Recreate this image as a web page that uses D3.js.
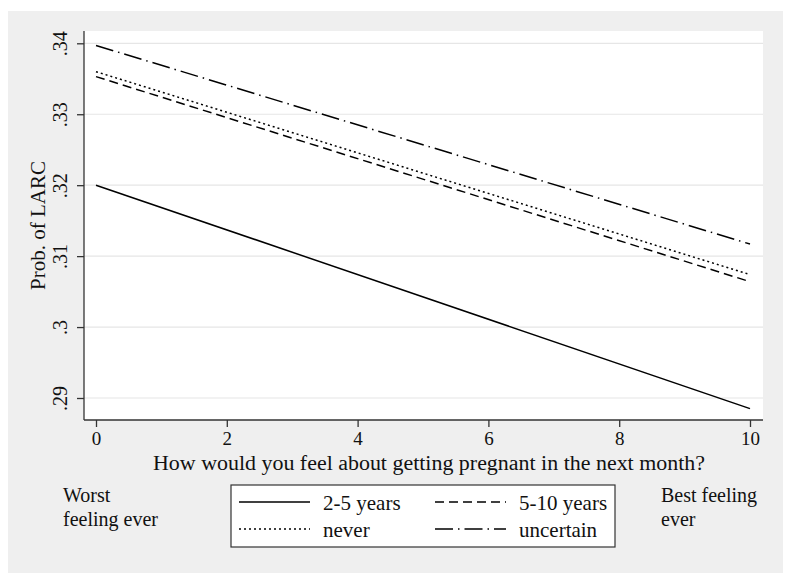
<!DOCTYPE html>
<html><head><meta charset="utf-8">
<script src="https://cdn.jsdelivr.net/npm/d3@7"></script>
<style>body{margin:0;background:#fff;} text{font-family:"Liberation Serif","Times New Roman",serif;fill:#111;}</style>
</head><body>
<svg id="c" width="800" height="577"></svg>
<script>
const xDomain = [0, 10];
const xTicks = [0, 2, 4, 6, 8, 10];
const yTicks = [0.29, 0.30, 0.31, 0.32, 0.33, 0.34];
const yTickLabels = [".29", ".3", ".31", ".32", ".33", ".34"];
const seriesNames = ["2-5 years", "5-10 years", "never", "uncertain"];
const seriesStart = [0.3200, 0.3353, 0.3360, 0.3397];
const seriesEnd = [0.2885, 0.3064, 0.3074, 0.3117];
const dashes = ["none", "9,5", "2,3", "18,5,1.5,5"];

const svg = d3.select("#c");
svg.append("rect").attr("x",8).attr("y",11).attr("width",775).attr("height",562).attr("fill","#efefef");
const L = 84, R = 763, T = 31, B = 420;
svg.append("rect").attr("x",L).attr("y",T).attr("width",R-L).attr("height",B-T).attr("fill","#fff");

const x = d3.scaleLinear().domain(xDomain).range([96, 750]);
const y = d3.scaleLinear().domain([0.29, 0.34]).range([398, 43.3]);

// gridlines
svg.append("g").selectAll("line").data(yTicks).join("line")
  .attr("x1",L).attr("x2",R).attr("y1",d=>y(d)).attr("y2",d=>y(d))
  .attr("stroke","#e6e6e6").attr("stroke-width",1.2);

// y axis
const yAxis = d3.axisLeft(y).tickValues(yTicks).tickSize(7).tickPadding(8)
  .tickFormat((d,i)=>yTickLabels[i]);
const gy = svg.append("g").attr("transform",`translate(${L},0)`).call(yAxis);
gy.select(".domain").attr("d",`M0,${T}V${B}`).attr("stroke","#333").attr("stroke-width",1.3);
gy.selectAll(".tick line").attr("stroke","#333").attr("stroke-width",1.3);
gy.selectAll(".tick text").attr("font-size",20).attr("font-family","Liberation Serif")
  .attr("x",0).attr("dy",0).attr("text-anchor","middle")
  .attr("transform","translate(-17,0) rotate(-90)").attr("fill","#111");

// x axis
const xAxis = d3.axisBottom(x).tickValues(xTicks).tickSize(7).tickPadding(5);
const gx = svg.append("g").attr("transform",`translate(0,${B})`).call(xAxis);
gx.select(".domain").attr("d",`M${L},0H${R}`).attr("stroke","#333").attr("stroke-width",1.3);
gx.selectAll(".tick line").attr("stroke","#333").attr("stroke-width",1.3);
gx.selectAll(".tick text").attr("font-size",19).attr("font-family","Liberation Serif").attr("fill","#111");

// titles
svg.append("text").attr("x",429).attr("y",470).attr("text-anchor","middle").attr("font-size",20)
  .attr("textLength",552).attr("lengthAdjust","spacingAndGlyphs")
  .text("How would you feel about getting pregnant in the next month?");
svg.append("text").attr("transform","translate(45,225.5) rotate(-90)").attr("text-anchor","middle").attr("font-size",21)
  .text("Prob. of LARC");

// lines
const line = d3.line().x(d=>x(d[0])).y(d=>y(d[1]));
seriesNames.forEach((n,i)=>{
  svg.append("path").datum([[xDomain[0],seriesStart[i]],[xDomain[1],seriesEnd[i]]])
    .attr("d",line).attr("fill","none").attr("stroke","#000").attr("stroke-width",1.5)
    .attr("stroke-dasharray",dashes[i]);
});

// side notes
svg.append("text").attr("x",63).attr("y",502).attr("font-size",20).text("Worst");
svg.append("text").attr("x",63).attr("y",526).attr("font-size",20).text("feeling ever");
svg.append("text").attr("x",661).attr("y",502).attr("font-size",20).text("Best feeling");
svg.append("text").attr("x",661).attr("y",526).attr("font-size",20).text("ever");

// legend
svg.append("rect").attr("x",231).attr("y",485).attr("width",384).attr("height",62)
  .attr("fill","#fff").attr("stroke","#333").attr("stroke-width",1.2);
const legPos = [[239,502],[435,502],[239,529],[435,529]];
seriesNames.forEach((nm,k)=>{
  const [lx,ly] = legPos[k];
  svg.append("line").attr("x1",lx).attr("x2",lx+71).attr("y1",ly).attr("y2",ly)
    .attr("stroke","#000").attr("stroke-width",1.5).attr("stroke-dasharray",dashes[k]);
  svg.append("text").attr("x",lx+84).attr("y",ly+8).attr("font-size",21).text(nm);
});
</script>
</body></html>
